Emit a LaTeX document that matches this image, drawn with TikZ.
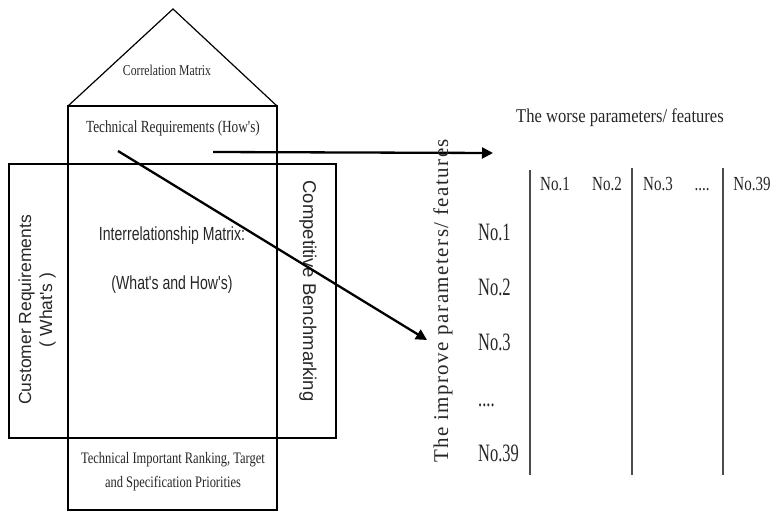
\documentclass[tikz,border=0pt]{standalone}
\usepackage{fontspec}
\setmainfont{Liberation Serif}
\newfontfamily\houseserif[FakeStretch=0.78]{Liberation Serif}
\newfontfamily\tabserif[FakeStretch=0.75]{Liberation Serif}
\newfontfamily\rowserif[FakeStretch=0.66]{Liberation Serif}
\newfontfamily\headserif[FakeStretch=0.85]{Liberation Serif}
\newfontfamily\wideserif[LetterSpace=7]{Liberation Serif}
\newfontfamily\condsans[FakeStretch=0.74]{Liberation Sans}
\newfontfamily\plainsans{Liberation Sans}
\usetikzlibrary{arrows.meta}
\tikzset{
  cell/.style={draw, line width=1.2pt, inner sep=0pt},
  txt/.style={inner sep=0pt, text=black!85, align=center},
  arr/.style={line width=2.3pt, -{Triangle[length=11pt,width=11pt]}},
  tabline/.style={line width=1.8pt, draw=black!70},
}
\begin{document}
\begin{tikzpicture}[x=1pt,y=-1pt]
\useasboundingbox (0,0) rectangle (773,511);
% house
\draw[line width=1.2pt] (68,106) -- (173,9) -- (277,106);
\node[cell, minimum width=209pt, minimum height=58pt] (tech) at (172.5,135) {};
\node[cell, minimum width=327pt, minimum height=274pt] (wide) at (172.5,301) {};
\node[cell, minimum width=209pt, minimum height=274pt] (inter) at (172.5,301) {};
\node[cell, minimum width=209pt, minimum height=72pt] (bottom) at (172.5,474) {};
% house texts
\node[txt, font=\houseserif\fontsize{15}{17}\selectfont] (corr) at (167,70) {Correlation Matrix};
\node[txt, font=\houseserif\fontsize{17}{19}\selectfont] (techtxt) at (173,128) {Technical Requirements (How's)};
\node[txt, font=\condsans\fontsize{19}{21}\selectfont] (intertxt) at (172,236) {Interrelationship Matrix:};
\node[txt, font=\condsans\fontsize{19}{21}\selectfont] (whathow) at (172,285) {(What's and How's)};
\node[txt, font=\plainsans\fontsize{17.5}{21}\selectfont, rotate=90] (cust) at (37,310) {Customer Requirements\\( What's )};
\node[txt, font=\plainsans\fontsize{18.5}{20}\selectfont, rotate=-90] (comp) at (308,291) {Competitive Benchmarking};
\node[txt, font=\houseserif\fontsize{16}{24}\selectfont] (rank) at (173,472) {Technical Important Ranking, Target\\and Specification Priorities};
% arrows
\coordinate (a1s) at (213,152);
\coordinate (a2s) at (118,151);
\coordinate (a1e) at (493,153);
\coordinate (a2e) at (427,340);
\draw[arr] (a1s) -- (a1e);
\draw[arr] (a2s) -- (a2e);
% right table
\node[txt, font=\headserif\fontsize{19.5}{21}\selectfont] (worse) at (620,118) {The worse parameters/ features};
\node[txt, font=\wideserif\fontsize{21}{23}\selectfont, rotate=90] (improve) at (443,301) {The improve parameters/ features};
\coordinate (v1t) at (530,170); \coordinate (v1b) at (530,475);
\coordinate (v2t) at (632,168); \coordinate (v2b) at (632,475);
\coordinate (v3t) at (723,168); \coordinate (v3b) at (723,475);
\draw[tabline] (v1t) -- (v1b);
\draw[tabline] (v2t) -- (v2b);
\draw[tabline] (v3t) -- (v3b);
\tikzset{colh/.style={txt, anchor=base, font=\tabserif\fontsize{20}{22}\selectfont}}
\node[colh] (c1) at (555,190) {No.1};
\node[colh] (c2) at (607,190) {No.2};
\node[colh] (c3) at (658,190) {No.3};
\node[colh] (c4) at (702,190) {....};
\node[colh] (c5) at (752,190) {No.39};
\tikzset{rowh/.style={txt, anchor=base west, font=\rowserif\fontsize{25}{27}\selectfont}}
\node[rowh] (r1) at (478,240) {No.1};
\node[rowh] (r2) at (478,295) {No.2};
\node[rowh] (r3) at (478,350) {No.3};
\node[rowh] (r4) at (478,406) {....};
\node[rowh] (r5) at (478,461) {No.39};
\end{tikzpicture}
\end{document}
